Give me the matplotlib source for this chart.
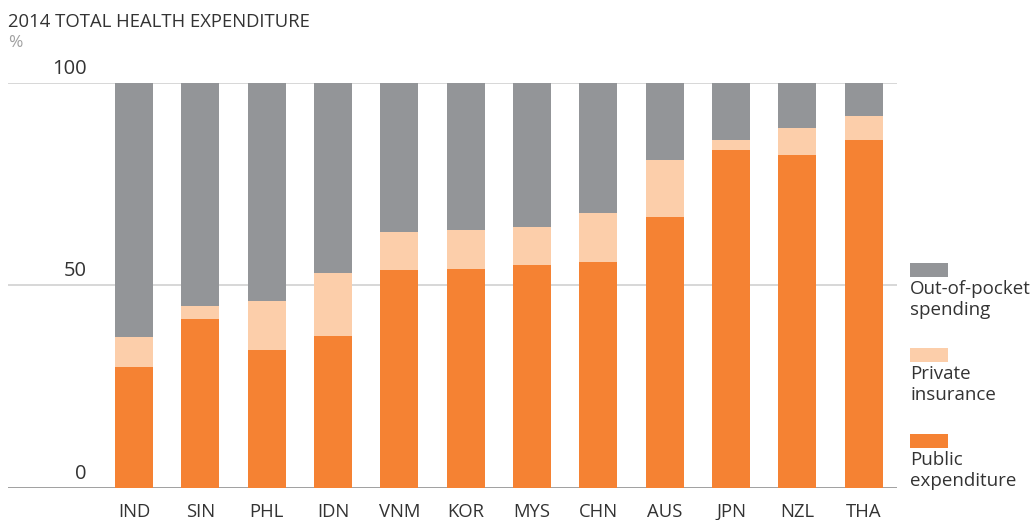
import matplotlib
matplotlib.use("Agg")
import matplotlib.pyplot as plt
from matplotlib.patches import Rectangle
import numpy as np

countries = ["IND", "SIN", "PHL", "IDN", "VNM", "KOR", "MYS", "CHN", "AUS", "JPN", "NZL", "THA"]
public = [29.9, 41.7, 34.0, 37.5, 53.8, 54.0, 55.0, 55.8, 66.9, 83.4, 82.2, 85.9]
private = [7.4, 3.2, 12.1, 15.5, 9.4, 9.7, 9.4, 12.1, 14.0, 2.5, 6.6, 5.9]
out_of_pocket = [100 - a - b for a, b in zip(public, private)]
yticks = [0, 50, 100]

C_PUB = "#F58233"
C_PRIV = "#FCCEAA"
C_OOP = "#939598"
TXT = "#333333"

plt.rcParams['font.family'] = ['Open Sans', 'DejaVu Sans']

W, H = 1032, 520
fig = plt.figure(figsize=(W / 100, H / 100), dpi=100)
ax_l, ax_r, ax_b, ax_t = 8, 897, 488, 82.7
ax = fig.add_axes([ax_l / W, 1 - ax_b / H, (ax_r - ax_l) / W, (ax_b - ax_t) / H])

x = np.arange(len(countries))
bw = 0.573
pub = np.array(public)
priv = np.array(private)
oop = np.array(out_of_pocket)
ax.bar(x, pub, bw, color=C_PUB, zorder=3)
ax.bar(x, priv, bw, bottom=pub, color=C_PRIV, zorder=3)
ax.bar(x, oop, bw, bottom=pub + priv, color=C_OOP, zorder=3)

ax.set_xlim(-1.9, 11.5)
ax.set_ylim(0, 100)
for s in ax.spines.values():
    s.set_visible(False)
ax.set_yticks([])
ax.set_xticks(x)
ax.set_xticklabels(countries, fontsize=13.3, color=TXT)
ax.tick_params(axis='x', length=0, pad=11)

for v in yticks:
    ax.axhline(v, color="#999999" if v == 0 else "#d4d4d4", lw=1.3, zorder=1)
    ax.annotate(str(v), xy=((87 - ax_l) / (ax_r - ax_l), v), xycoords=('axes fraction', 'data'),
                xytext=(0, 3), textcoords='offset points', ha='right', va='bottom',
                fontsize=14.5, color=TXT)

fig.text(8 / W, 1 - 27 / H, "2014 TOTAL HEALTH EXPENDITURE", fontsize=13.3, color=TXT,
         ha='left', va='baseline')
fig.text(8 / W, 1 - 47 / H, "%", fontsize=12.5, color="#a0a0a0", ha='left', va='baseline')

legend_items = [("Out-of-pocket\nspending", C_OOP, 263),
                ("Private\ninsurance", C_PRIV, 348),
                ("Public\nexpenditure", C_PUB, 434)]
for label, col, ytop in legend_items:
    fig.add_artist(Rectangle((910 / W, 1 - (ytop + 14) / H), 38 / W, 14 / H,
                             transform=fig.transFigure, color=col, lw=0))
    fig.text(910 / W, 1 - (ytop + 17) / H, label, fontsize=13.5, color=TXT,
             ha='left', va='top', linespacing=1.2)

fig.savefig("out.png", dpi=100, facecolor='white')
